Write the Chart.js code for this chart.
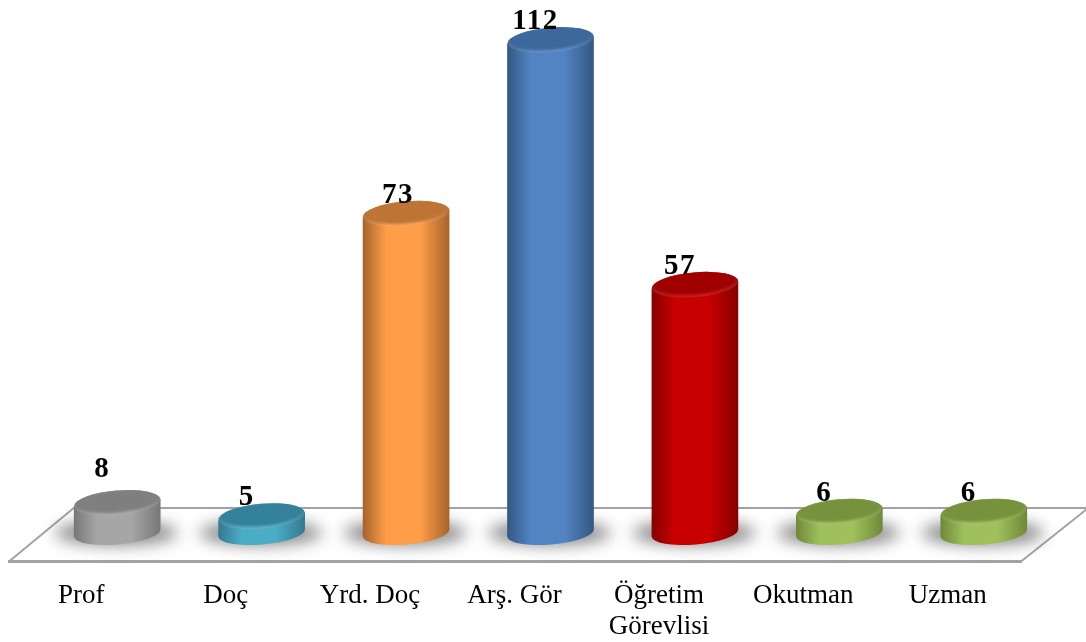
<!DOCTYPE html>
<html>
<head>
<meta charset="utf-8">
<script src="https://cdn.jsdelivr.net/npm/chart.js@4"></script>
<style>html,body{margin:0;padding:0;background:#fff}canvas{display:block}</style>
</head>
<body>
<canvas id="c" width="1086" height="642"></canvas>
<script>
const categories = ["Prof", "Doç", "Yrd. Doç", "Arş. Gör", ["Öğretim", "Görevlisi"], "Okutman", "Uzman"];
const values = [8, 5, 73, 112, 57, 6, 6];
const faceColors = ["#a6a6a6", "#4bacc6", "#ff9d48", "#5283c2", "#c80000", "#9fc05c", "#9fc05c"];
const edgeColors = ["#777777", "#33798f", "#a5642c", "#345783", "#860000", "#6f8839", "#6f8839"];
const capColors  = ["#7f7f7f", "#33819a", "#bd7434", "#3c689e", "#a00000", "#76923c", "#76923c"];

const FONT = '"Liberation Serif", serif';

Chart.BarElement.prototype.draw = function (ctx) {
  const i = this.$context.dataIndex;
  const x = this.x, w = this.width, r = w / 2;
  const tilt = -5 * Math.PI / 180, ry = 12.5, skew = 3.8;
  const topY = this.y - 1.5, baseY = this.base - 7;

  const body = ctx.createLinearGradient(x - r, 0, x + r, 0);
  body.addColorStop(0, edgeColors[i]);
  body.addColorStop(0.27, faceColors[i]);
  body.addColorStop(0.66, faceColors[i]);
  body.addColorStop(1, edgeColors[i]);

  ctx.save();
  ctx.fillStyle = body;
  ctx.beginPath();
  ctx.ellipse(x, baseY, r, ry - 1, tilt, 0, Math.PI * 2);
  ctx.fill();
  ctx.beginPath();
  ctx.moveTo(x - r, topY + skew);
  ctx.lineTo(x - r, baseY + skew);
  ctx.lineTo(x + r, baseY - skew);
  ctx.lineTo(x + r, topY - skew);
  ctx.closePath();
  ctx.fill();

  // cap with a light bevel along its front rim
  ctx.beginPath();
  ctx.ellipse(x, topY, r, ry, tilt, 0, Math.PI * 2);
  ctx.fill();
  ctx.beginPath();
  ctx.ellipse(x, topY, r, ry, tilt, 0, Math.PI * 2);
  ctx.clip();
  ctx.filter = "blur(1.5px)";
  ctx.fillStyle = "rgba(255,255,255,0.16)";
  ctx.beginPath();
  ctx.ellipse(x, topY, r, ry, tilt, 0, Math.PI * 2);
  ctx.fill();
  ctx.fillStyle = capColors[i];
  ctx.beginPath();
  ctx.ellipse(x, topY - 2, r - 1, ry - 0.5, tilt, 0, Math.PI * 2);
  ctx.fill();
  ctx.restore();
};

const stage = {
  id: "stage",
  beforeDatasetsDraw(chart) {
    const {ctx, chartArea: a} = chart;
    const floorBottom = a.bottom + 21.5, floorTop = a.bottom - 32;
    ctx.save();
    ctx.strokeStyle = "#a3a3a3";
    ctx.lineWidth = 2;
    ctx.beginPath();
    ctx.moveTo(a.left + 28, floorTop);
    ctx.lineTo(a.right + 31, floorTop);
    ctx.moveTo(a.left - 36, floorBottom);
    ctx.lineTo(a.left + 30, floorTop - 1);
    ctx.moveTo(a.right - 35, floorBottom);
    ctx.lineTo(a.right + 31, floorTop + 1);
    ctx.stroke();
    ctx.lineWidth = 3;
    ctx.beginPath();
    ctx.moveTo(a.left - 37, floorBottom);
    ctx.lineTo(a.right - 34, floorBottom);
    ctx.stroke();
    ctx.restore();

    // soft contact shadows
    const bars = chart.getDatasetMeta(0).data;
    ctx.save();
    ctx.filter = "blur(8px)";
    ctx.fillStyle = "rgba(100,100,100,0.78)";
    bars.forEach(b => {
      ctx.beginPath();
      ctx.ellipse(b.x - 1, b.base - 7, b.width / 2 + 18, 12, 0, 0, Math.PI * 2);
      ctx.fill();
    });
    ctx.restore();
  },
  afterDatasetsDraw(chart) {
    const {ctx} = chart;
    const bars = chart.getDatasetMeta(0).data;
    ctx.save();
    ctx.font = 'bold 29px ' + FONT;
    ctx.letterSpacing = "1.5px";
    ctx.fillStyle = "#000";
    ctx.textAlign = "center";
    ctx.textBaseline = "middle";
    bars.forEach((b, i) => {
      const dx = i === 2 ? -8 : -15;
      const dy = i === 0 ? -35 : -20;
      ctx.fillText(String(values[i]), b.x + dx, b.y + dy);
    });
    ctx.restore();
  }
};

new Chart(document.getElementById("c"), {
  type: "bar",
  data: {
    labels: categories,
    datasets: [{
      data: values,
      backgroundColor: faceColors,
      borderWidth: 0,
      categoryPercentage: 1,
      barPercentage: 0.6,
      clip: false
    }]
  },
  plugins: [stage],
  options: {
    responsive: false,
    animation: false,
    layout: {padding: {left: 45, right: 30, top: 6, bottom: 0}},
    plugins: {legend: {display: false}, tooltip: {enabled: false}, title: {display: false}},
    scales: {
      y: {display: false, min: 0, max: 120},
      x: {
        grid: {display: false, drawTicks: false},
        border: {display: false},
        afterFit(scale) { scale.height = 102; },
        ticks: {
          color: "#000",
          font: {family: FONT, size: 27, lineHeight: 1.15},
          padding: 40,
          labelOffset: -36,
          maxRotation: 0,
          autoSkip: false
        }
      }
    }
  }
});
</script>
</body>
</html>
